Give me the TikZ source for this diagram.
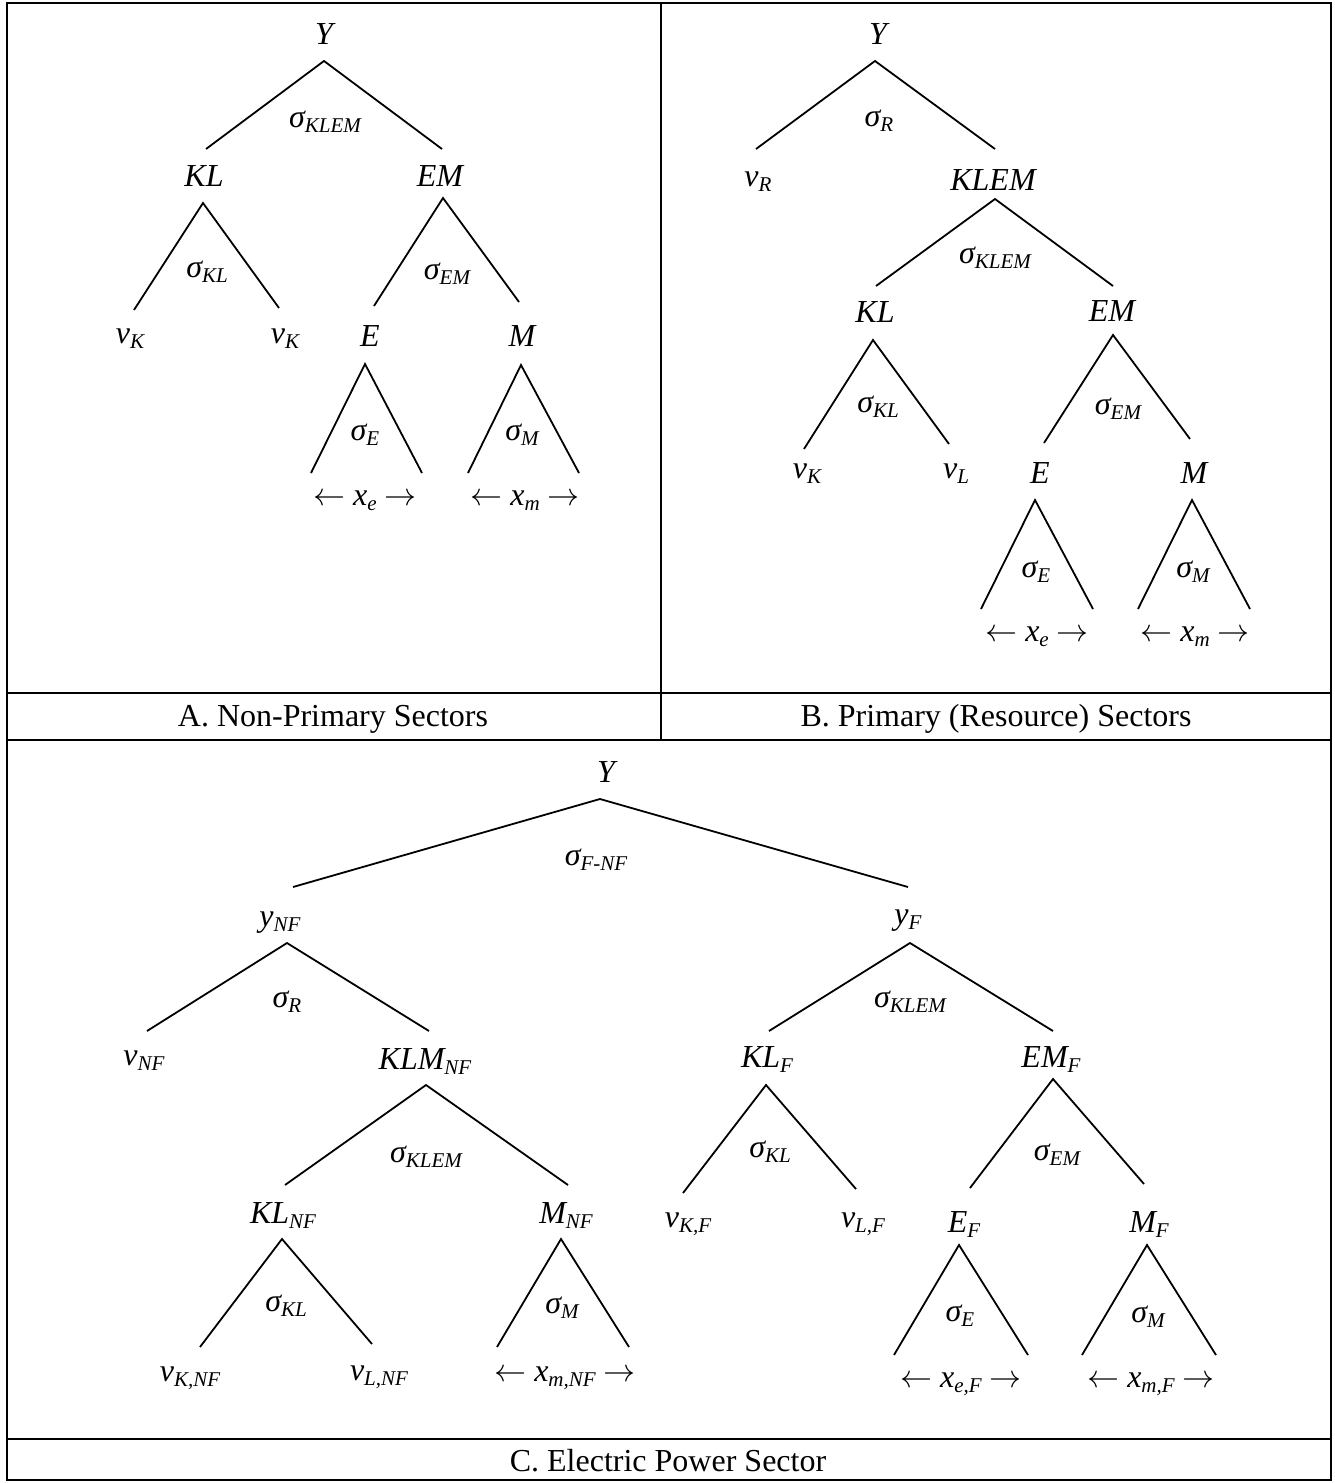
\RequirePackage{fix-cm}
\documentclass[tikz,border=0pt]{standalone}
\usepackage{fontspec}
\setmainfont{Liberation Serif}
\newcommand{\sbs}[1]{\raisebox{-5pt}{\fontsize{21}{21}\selectfont\itshape #1}}
\newcommand{\fork}[4]{\coordinate (#1a) at (#2); \coordinate (#1l) at (#3); \coordinate (#1r) at (#4); \draw[branch] (#1l) -- (#1a) -- (#1r);}
\newcommand{\lar}{$\leftarrow$}
\newcommand{\rar}{$\rightarrow$}
\begin{document}
\begin{tikzpicture}[x=1pt,y=-1pt,
  lbl/.style={anchor=base,inner sep=0pt,font=\fontsize{32}{38}\selectfont\itshape},
  captxt/.style={anchor=base,inner sep=0pt,font=\fontsize{32}{38}\selectfont},
  branch/.style={line width=1.8pt,line cap=butt},
  framel/.style={line width=2.4pt}]
\useasboundingbox (0,0) rectangle (1335,1483);
% frame
\coordinate (f1) at (7,3); \coordinate (f2) at (1331,1480);
\draw[framel] (f1) rectangle (f2);
\coordinate (d1) at (661,3); \coordinate (d2) at (661,740);
\draw[framel] (d1) -- (d2);
\coordinate (h1l) at (7,693); \coordinate (h1r) at (1331,693);
\draw[framel] (h1l) -- (h1r);
\coordinate (h2l) at (7,740); \coordinate (h2r) at (1331,740);
\draw[framel] (h2l) -- (h2r);
\coordinate (h3l) at (7,1439); \coordinate (h3r) at (1331,1439);
\draw[framel] (h3l) -- (h3r);
% captions
\node[captxt] (capA) at (333,726) {A. Non-Primary Sectors};
\node[captxt] (capB) at (996,726) {B. Primary (Resource) Sectors};
\node[captxt] (capC) at (668,1471) {C. Electric Power Sector};

% ---------------- Panel A
\node[lbl] (aY) at (324,44) {Y};
\fork{aY}{324,61}{206,149}{442,149}
\node[lbl] (aS1) at (325,127) {σ\sbs{KLEM}};
\node[lbl] (aKL) at (204,186) {KL};
\node[lbl] (aEM) at (440,186) {EM};
\fork{aKL}{203,203}{134,310}{279,308}
\node[lbl] (aS2) at (207,277) {σ\sbs{KL}};
\fork{aEM}{443,198}{374,306}{519,302}
\node[lbl] (aS3) at (447,279) {σ\sbs{EM}};
\node[lbl] (aVK) at (130,343) {v\sbs{K}};
\node[lbl] (aVK2) at (285,343) {v\sbs{K}};
\node[lbl] (aE) at (370,346) {E};
\node[lbl] (aM) at (522,346) {M};
\fork{aE}{365,364}{311,473}{422,473}
\fork{aM}{521,365}{468,473}{579,473}
\node[lbl] (aSE) at (365,440) {σ\sbs{E}};
\node[lbl] (aSM) at (522,440) {σ\sbs{M}};
\node[lbl] (aXE) at (365,505) {\lar{} x\sbs{e} \rar};
\node[lbl] (aXM) at (525,505) {\lar{} x\sbs{m} \rar};

% ---------------- Panel B
\node[lbl] (bY) at (878,44) {Y};
\fork{bY}{875,61}{756,149}{995,149}
\node[lbl] (bSR) at (879,126) {σ\sbs{R}};
\node[lbl] (bVR) at (758,186) {v\sbs{R}};
\node[lbl] (bKLEM) at (993,190) {KLEM};
\fork{bKLEM}{995,199}{876,286}{1113,286}
\node[lbl] (bS1) at (995,263) {σ\sbs{KLEM}};
\node[lbl] (bKL) at (875,322) {KL};
\node[lbl] (bEM) at (1112,321) {EM};
\fork{bKL}{873,340}{804,449}{949,444}
\node[lbl] (bS2) at (878,412) {σ\sbs{KL}};
\fork{bEM}{1113,335}{1044,443}{1190,439}
\node[lbl] (bS3) at (1118,414) {σ\sbs{EM}};
\node[lbl] (bVK) at (807,478) {v\sbs{K}};
\node[lbl] (bVL) at (956,478) {v\sbs{L}};
\node[lbl] (bE) at (1040,483) {E};
\node[lbl] (bM) at (1194,483) {M};
\fork{bE}{1035,500}{981,609}{1093,609}
\fork{bM}{1192,500}{1138,609}{1250,609}
\node[lbl] (bSE) at (1036,577) {σ\sbs{E}};
\node[lbl] (bSM) at (1193,577) {σ\sbs{M}};
\node[lbl] (bXE) at (1037,641) {\lar{} x\sbs{e} \rar};
\node[lbl] (bXM) at (1195,641) {\lar{} x\sbs{m} \rar};

% ---------------- Panel C
\node[lbl] (cY) at (606,782) {Y};
\fork{cY}{600,799}{293,887}{908,887}
\node[lbl] (cS0) at (596,865) {σ\sbs{F-NF}};
\node[lbl] (cYNF) at (280,926) {y\sbs{NF}};
\fork{cYNF}{287,943}{147,1031}{429,1031}
\node[lbl] (cSR) at (287,1007) {σ\sbs{R}};
\node[lbl] (cVNF) at (144,1065) {v\sbs{NF}};
\node[lbl] (cKLM) at (425,1069) {KLM\sbs{NF}};
\fork{cKLM}{426,1085}{285,1185}{568,1185}
\node[lbl] (cS1) at (426,1162) {σ\sbs{KLEM}};
\node[lbl] (cKLNF) at (283,1223) {KL\sbs{NF}};
\node[lbl] (cMNF) at (566,1223) {M\sbs{NF}};
\fork{cKLNF}{282,1239}{200,1347}{372,1344}
\fork{cMNF}{561,1239}{497,1347}{629,1347}
\node[lbl] (cS2) at (286,1311) {σ\sbs{KL}};
\node[lbl] (cS3) at (562,1313) {σ\sbs{M}};
\node[lbl] (cVKNF) at (190,1381) {v\sbs{K,NF}};
\node[lbl] (cVLNF) at (379,1380) {v\sbs{L,NF}};
\node[lbl] (cXMNF) at (565,1381) {\lar{} x\sbs{m,NF} \rar};

\node[lbl] (cYF) at (908,924) {y\sbs{F}};
\fork{cYF}{910,943}{769,1031}{1053,1031}
\node[lbl] (cS4) at (910,1007) {σ\sbs{KLEM}};
\node[lbl] (cKLF) at (767,1067) {KL\sbs{F}};
\node[lbl] (cEMF) at (1051,1067) {EM\sbs{F}};
\fork{cKLF}{766,1085}{683,1193}{856,1189}
\fork{cEMF}{1053,1079}{970,1188}{1144,1184}
\node[lbl] (cS5) at (770,1157) {σ\sbs{KL}};
\node[lbl] (cS6) at (1057,1160) {σ\sbs{EM}};
\node[lbl] (cVKF) at (688,1227) {v\sbs{K,F}};
\node[lbl] (cVLF) at (863,1227) {v\sbs{L,F}};
\node[lbl] (cEF) at (964,1232) {E\sbs{F}};
\node[lbl] (cMF) at (1149,1232) {M\sbs{F}};
\fork{cEF}{959,1245}{894,1355}{1028,1355}
\fork{cMF}{1147,1245}{1082,1355}{1216,1355}
\node[lbl] (cS7) at (960,1321) {σ\sbs{E}};
\node[lbl] (cS8) at (1148,1322) {σ\sbs{M}};
\node[lbl] (cXEF) at (961,1387) {\lar{} x\sbs{e,F} \rar};
\node[lbl] (cXMF) at (1151,1387) {\lar{} x\sbs{m,F} \rar};
\end{tikzpicture}
\end{document}
